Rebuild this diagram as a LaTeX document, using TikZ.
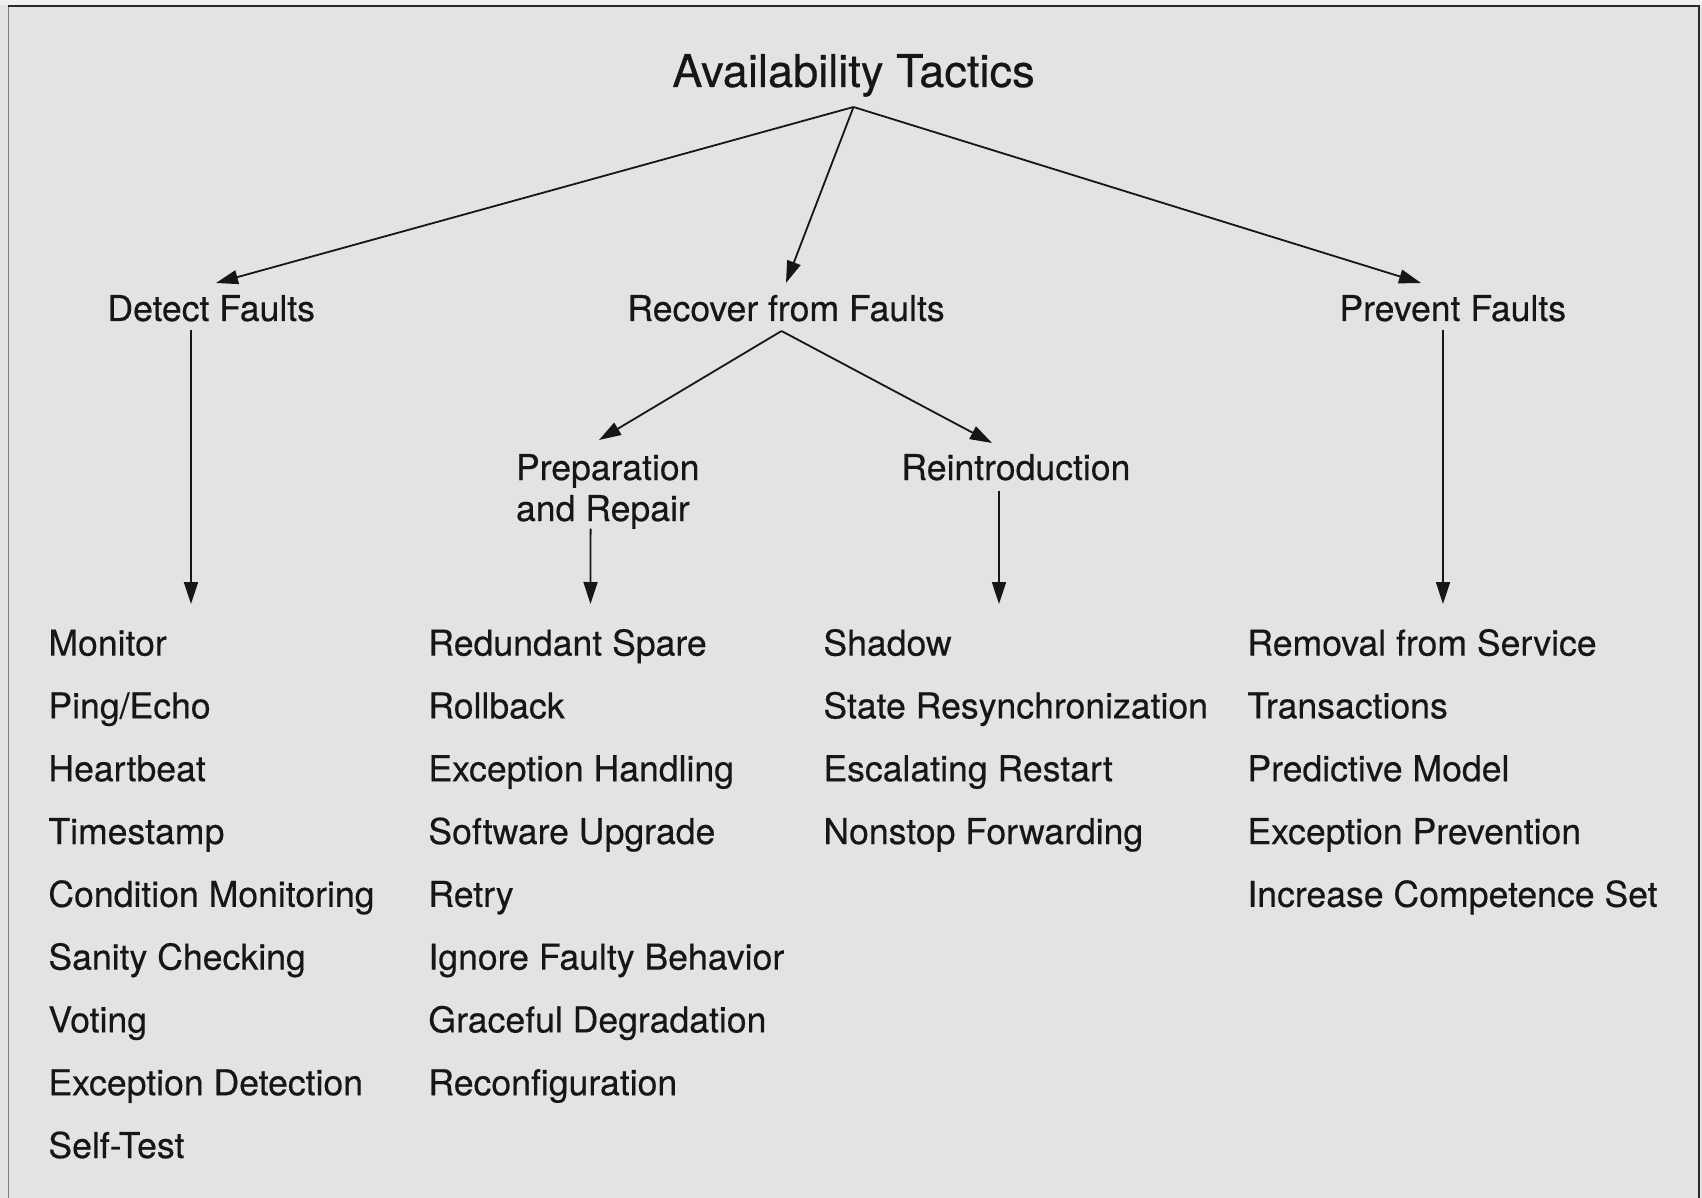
\documentclass[tikz,border=0pt]{standalone}
\usepackage{fontspec}
\setmainfont{TeX Gyre Heros}[FakeBold=0.4]
\usetikzlibrary{arrows.meta}
\definecolor{panel}{RGB}{227,227,225}
\definecolor{ink}{RGB}{22,22,22}
\definecolor{rimdark}{RGB}{40,40,40}
\definecolor{rimgrey}{RGB}{125,125,125}
\begin{document}
\begin{tikzpicture}[x=0.5pt,y=-0.5pt,
  heading/.style={font=\fontsize{22.6}{26}\selectfont, text=ink, inner sep=0pt, anchor=base},
  branch/.style={font=\fontsize{17.8}{20.5}\selectfont, text=ink, inner sep=0pt, anchor=base west, align=left},
  tactic/.style={font=\fontsize{17.8}{21}\selectfont, text=ink, inner sep=0pt, anchor=base west},
  link/.style={draw=ink, line width=0.9pt, line join=round, -{Triangle[length=11pt,width=7pt]}}]

% panel and frame
\useasboundingbox (0,0) rectangle (1702,1198);
\fill[panel] (0,0) rectangle (1702,1198);
\fill[gray!12] (0,0) rectangle (1702,4.7);
\draw[rimgrey, line width=0.75pt] (8.7,5) -- (8.7,1198);
\draw[rimdark, line width=0.9pt] (1699,5) -- (1699,1198);
\draw[rimdark, line width=1pt] (8,5.7) -- (1700,5.7);

% root and branches (a two-line node sits on the baseline of its last line)
\node[heading] (title) at (853.5,87) {Availability Tactics};
\node[branch] (detect)  at (107,321)  {Detect Faults};
\node[branch] (recover) at (627,321)  {Recover from Faults};
\node[branch] (prevent) at (1339,321) {Prevent Faults};
\node[branch] (prep)    at (515.6,521) {Preparation\\and Repair};
\node[branch] (reintro) at (901,480)  {Reintroduction};

% tactic lists
\foreach \t [count=\i from 0] in {Monitor, Ping/Echo, Heartbeat, Timestamp,
    Condition Monitoring, Sanity Checking, Voting, Exception Detection, Self-Test}
  \node[tactic] (d\i) at (48,{655.6+62.8*\i}) {\t};
\foreach \t [count=\i from 0] in {Redundant Spare, Rollback, Exception Handling,
    Software Upgrade, Retry, Ignore Faulty Behavior, Graceful Degradation, Reconfiguration}
  \node[tactic] (r\i) at (428,{655.6+62.8*\i}) {\t};
\foreach \t [count=\i from 0] in {Shadow, State Resynchronization, Escalating Restart,
    Nonstop Forwarding}
  \node[tactic] (s\i) at (823,{655.6+62.8*\i}) {\t};
\foreach \t [count=\i from 0] in {Removal from Service, Transactions, Predictive Model,
    Exception Prevention, Increase Competence Set}
  \node[tactic] (p\i) at (1247,{655.6+62.8*\i}) {\t};

% tree connectors
\draw[link] ([yshift=-10pt]title.base) -- ([xshift=54.5pt,yshift=19pt]detect.base west);
\draw[link] ([yshift=-10pt]title.base) -- ([xshift=79.5pt,yshift=19pt]recover.base west);
\draw[link] ([yshift=-10pt]title.base) -- ([xshift=41pt,yshift=19pt]prevent.base west);
\draw[link] ([xshift=77.25pt,yshift=-5pt]recover.base west) -- ([xshift=41.7pt,yshift=40.5pt]prep.base west);
\draw[link] ([xshift=77.25pt,yshift=-5pt]recover.base west) -- ([xshift=45.5pt,yshift=18.5pt]reintro.base west);

% arrows down to the lists
\draw[link] ([xshift=42pt,yshift=-4.5pt]detect.base west) -- ([xshift=71.5pt,yshift=25.8pt]d0.base west);
\draw[link] ([xshift=37.5pt,yshift=-3.8pt]prep.base west) -- ([xshift=81.25pt,yshift=25.8pt]r0.base west);
\draw[link] ([xshift=49pt,yshift=-5.3pt]reintro.base west) -- ([xshift=88pt,yshift=25.8pt]s0.base west);
\draw[link] ([xshift=52pt,yshift=-4.5pt]prevent.base west) -- ([xshift=98pt,yshift=25.8pt]p0.base west);
\end{tikzpicture}
\end{document}
